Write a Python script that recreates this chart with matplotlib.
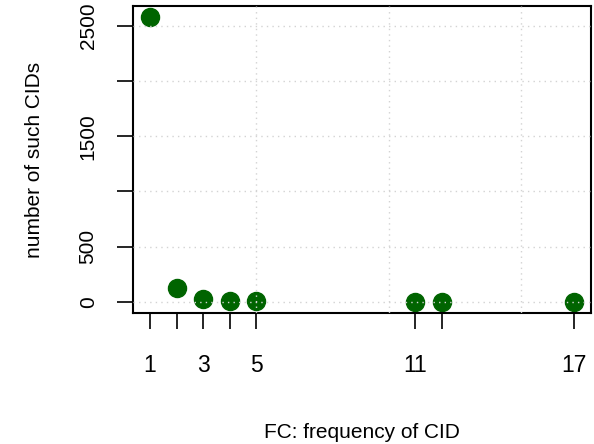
import matplotlib
matplotlib.use("Agg")
import matplotlib.pyplot as plt

plt.rcParams['font.family'] = ['Liberation Sans', 'DejaVu Sans']

fc = [1, 2, 3, 4, 5, 11, 12, 17]
counts = [2580, 120, 25, 9, 4, 1, 1, 1]
xlabels = ['1', '', '3', '', '5', '11', '', '17']
yticks = [0, 500, 1000, 1500, 2000, 2500]
ylabels = ['0', '500', '', '1500', '', '2500']

fig = plt.figure(figsize=(5.94, 4.44), dpi=100)
ax = fig.add_axes([0.224, 0.295, 0.771, 0.6915])

ax.plot(fc, counts, 'o', color='#006400', markersize=13, zorder=2)

ax.set_xlim(0.36, 17.64)
ax.set_ylim(-103, 2683)

# grid drawn on top, like R's grid() after plot()
for gx in [5, 10, 15]:
    ax.axvline(gx, color='lightgray', linestyle=(0, (1, 3)), linewidth=1, zorder=3)
for gy in yticks:
    ax.axhline(gy, color='lightgray', linestyle=(0, (1, 3)), linewidth=1, zorder=3)

ax.set_xticks(fc)
ax.set_xticklabels(xlabels, fontsize=16.5)
ax.set_yticks(yticks)
ax.set_yticklabels(ylabels, fontsize=15, rotation=90, va='center')
ax.tick_params(axis='both', length=11.5, width=1.2, color='black')
ax.tick_params(axis='x', pad=18)
ax.tick_params(axis='y', pad=14)

for s in ax.spines.values():
    s.set_linewidth(1.5)

ax.set_xlabel('FC: frequency of CID', fontsize=15, labelpad=33)
ax.set_ylabel('number of such CIDs', fontsize=15, labelpad=25)

fig.savefig('out.png', dpi=100)
